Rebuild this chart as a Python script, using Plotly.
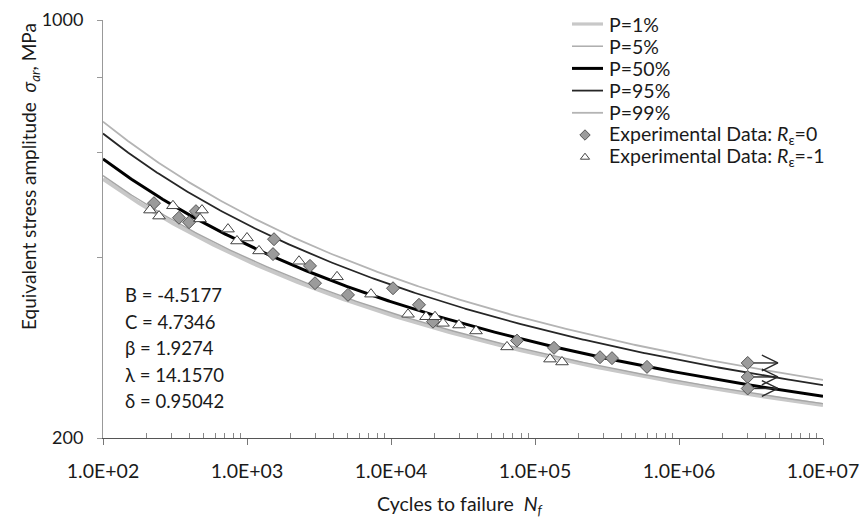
import numpy as np
import plotly.graph_objects as go

# Probabilistic S-N field parameters (Weibull regression model)
param_symbols = ["B", "C", "β", "λ", "δ"]
param_labels = ["-4.5177", "4.7346", "1.9274", "14.1570", "0.95042"]
B, C, BETA, LAM, DELTA = [float(v) for v in param_labels]

# Percentile curves
probabilities = [0.01, 0.05, 0.50, 0.95, 0.99]
curve_names = ["P=1%", "P=5%", "P=50%", "P=95%", "P=99%"]
curve_colors = ["#c8c8c8", "#a6a6a6", "#000000", "#262626", "#b4b4b4"]
curve_widths = [4.0, 1.4, 3.0, 1.8, 1.8]

# Experimental data, strain ratio R = 0 (failures)
r0_cycles = [226, 337, 396, 442, 1540, 1516, 2738, 2967, 5027, 10325, 15643,
             19570, 74990, 135500, 282800, 342500, 599500]
r0_stress = [494, 467, 459, 479, 430, 406, 388, 363, 347, 356, 334,
             313, 291, 283, 273, 272, 263]

# Experimental data, strain ratio R = 0 (run-outs)
runout_cycles = [3.0e6, 3.0e6, 3.0e6]
runout_stress = [267, 253, 242]

# Experimental data, strain ratio R = -1
rm1_cycles = [212, 245, 306, 487, 472, 738, 852, 1000, 1212, 2297, 4217, 7262,
              13130, 17510, 20210, 22970, 29670, 38940, 63900, 127100, 154000]
rm1_stress = [481, 470, 489, 481, 465, 447, 427, 432, 411, 395, 372, 348,
              322, 319, 319, 311, 309, 302, 284, 271, 268]

x_tick_values = [1e2, 1e3, 1e4, 1e5, 1e6, 1e7]
x_tick_labels = ["1.0E+02", "1.0E+03", "1.0E+04", "1.0E+05", "1.0E+06", "1.0E+07"]
y_tick_values = [200, 1000]
y_tick_labels = ["200", "1000"]
y_minor_values = [400, 600, 800]

r0_name = "Experimental Data: <i>R</i><sub>ε</sub>=0"
rm1_name = "Experimental Data: <i>R</i><sub>ε</sub>=-1"

FONT = "Lato"
TEXT = "#1a1a1a"
DIAMOND = dict(symbol="diamond", color="#9b9b9b", line=dict(color="#555555", width=1))
TRIANGLE = dict(symbol="triangle-up", color="white", line=dict(color="#444444", width=1))


def stress_amplitude(n, p):
    """Equivalent stress amplitude for life n at failure probability p."""
    w = (-np.log(1.0 - p)) ** (1.0 / BETA)
    return np.exp(C + (LAM + DELTA * w) / (np.log(n) - B))


fig = go.Figure()

n_grid = np.logspace(2, 7, 400)
for p, name, col, wid in zip(probabilities, curve_names, curve_colors, curve_widths):
    fig.add_trace(go.Scatter(
        x=n_grid, y=stress_amplitude(n_grid, p), mode="lines", name=name,
        line=dict(color=col, width=wid), showlegend=False,
    ))

# Run-out arrows: shaft plus open chevron head, laid out in log space
ax, ay = [], []
for n, s in zip(runout_cycles, runout_stress):
    tip = n * 1.62
    back = tip * 0.774
    ax += [n, tip, None, back, tip, back, None]
    ay += [s, s, None, s * 1.031, s, s / 1.031, None]
fig.add_trace(go.Scatter(
    x=ax, y=ay, mode="lines", showlegend=False, hoverinfo="skip",
    line=dict(color="#2b2b2b", width=1.4),
))

fig.add_trace(go.Scatter(
    x=r0_cycles + runout_cycles, y=r0_stress + runout_stress, mode="markers",
    name=r0_name, showlegend=False, marker=dict(size=10, **DIAMOND),
))
fig.add_trace(go.Scatter(
    x=rm1_cycles, y=rm1_stress, mode="markers",
    name=rm1_name, showlegend=False, marker=dict(size=11, **TRIANGLE),
))

# Plot area geometry in pixels
W, H = 860, 525
L, R, T, Bm = 103, 37, 20, 87
pw, ph = W - L - R, H - T - Bm

# Key drawn on a pixel-scaled overlay axis pair (x2/y2) for tight row spacing
KEY_X0, KEY_X1, KEY_TEXT_X = 572, 603, 607
KEY_ROW0, KEY_ROW_STEP = 24, 22.2
key_rows = [KEY_ROW0 + i * KEY_ROW_STEP for i in range(7)]

for i, (col, wid) in enumerate(zip(curve_colors, curve_widths)):
    fig.add_trace(go.Scatter(
        x=[KEY_X0, KEY_X1], y=[key_rows[i]] * 2, xaxis="x2", yaxis="y2",
        mode="lines", line=dict(color=col, width=min(wid, 3.2)),
        showlegend=False, hoverinfo="skip",
    ))
fig.add_trace(go.Scatter(
    x=[585], y=[key_rows[5]], xaxis="x2", yaxis="y2", mode="markers",
    marker=dict(size=8, **DIAMOND), showlegend=False, hoverinfo="skip",
))
fig.add_trace(go.Scatter(
    x=[585], y=[key_rows[6]], xaxis="x2", yaxis="y2", mode="markers",
    marker=dict(size=8, **TRIANGLE), showlegend=False, hoverinfo="skip",
))

annotations = []
for row, label in zip(key_rows, curve_names + [r0_name, rm1_name]):
    annotations.append(dict(
        xref="x2", yref="y2", x=KEY_TEXT_X, y=row, xanchor="left", yanchor="middle",
        showarrow=False, text=label, font=dict(family=FONT, size=19.5, color=TEXT),
    ))

for i, (sym, val) in enumerate(zip(param_symbols, param_labels)):
    annotations.append(dict(
        xref="x2", yref="y2", x=123, y=295 + i * 26.5,
        xanchor="left", yanchor="middle", showarrow=False,
        text=f"{sym} = {val}", font=dict(family=FONT, size=18.5, color=TEXT),
    ))

annotations.append(dict(
    xref="paper", yref="paper", x=(30 - L) / pw, y=(T + ph - 177) / ph,
    xanchor="center", yanchor="middle", textangle=-90, showarrow=False,
    text="Equivalent stress amplitude  <i>σ<sub>ar</sub></i>, MPa",
    font=dict(family=FONT, size=19, color=TEXT),
))
annotations.append(dict(
    xref="paper", yref="paper", x=(460 - L) / pw, y=(T + ph - 505) / ph,
    xanchor="center", yanchor="middle", showarrow=False,
    text="Cycles to failure  <i>N<sub>f</sub></i>",
    font=dict(family=FONT, size=19.5, color=TEXT),
))

minor_x = [m * 10 ** k for k in range(2, 7) for m in range(2, 10)]

fig.update_layout(
    width=W, height=H,
    margin=dict(l=L, r=R, t=T, b=Bm, autoexpand=False),
    paper_bgcolor="white", plot_bgcolor="white",
    font=dict(family=FONT, size=18, color=TEXT),
    showlegend=False,
    annotations=annotations,
    xaxis=dict(
        type="log", range=[2, 7], showgrid=False, zeroline=False, automargin=False,
        showline=True, linecolor="#555555", linewidth=1,
        tickmode="array", tickvals=x_tick_values, ticktext=x_tick_labels,
        ticks="outside", ticklen=6, tickcolor="#777777",
        ticklabelstandoff=10,
        tickfont=dict(family=FONT, size=19.5, color=TEXT),
        minor=dict(tickmode="array", tickvals=minor_x, ticks="inside",
                   ticklen=5, tickcolor="#888888", showgrid=False),
    ),
    yaxis=dict(
        type="log", range=[np.log10(200), 3], showgrid=False, zeroline=False,
        automargin=False,
        showline=True, linecolor="#999999", linewidth=1,
        tickmode="array", tickvals=y_tick_values, ticktext=y_tick_labels,
        ticks="outside", ticklen=5, tickcolor="#999999",
        ticklabelstandoff=10,
        tickfont=dict(family=FONT, size=18, color=TEXT),
        minor=dict(tickmode="array", tickvals=y_minor_values, ticks="outside",
                   ticklen=5, tickcolor="#999999", showgrid=False),
    ),
    xaxis2=dict(overlaying="x", range=[L, W - R], visible=False, fixedrange=True),
    yaxis2=dict(overlaying="y", range=[T + ph, T], visible=False, fixedrange=True),
)

fig.write_html("out.html")
